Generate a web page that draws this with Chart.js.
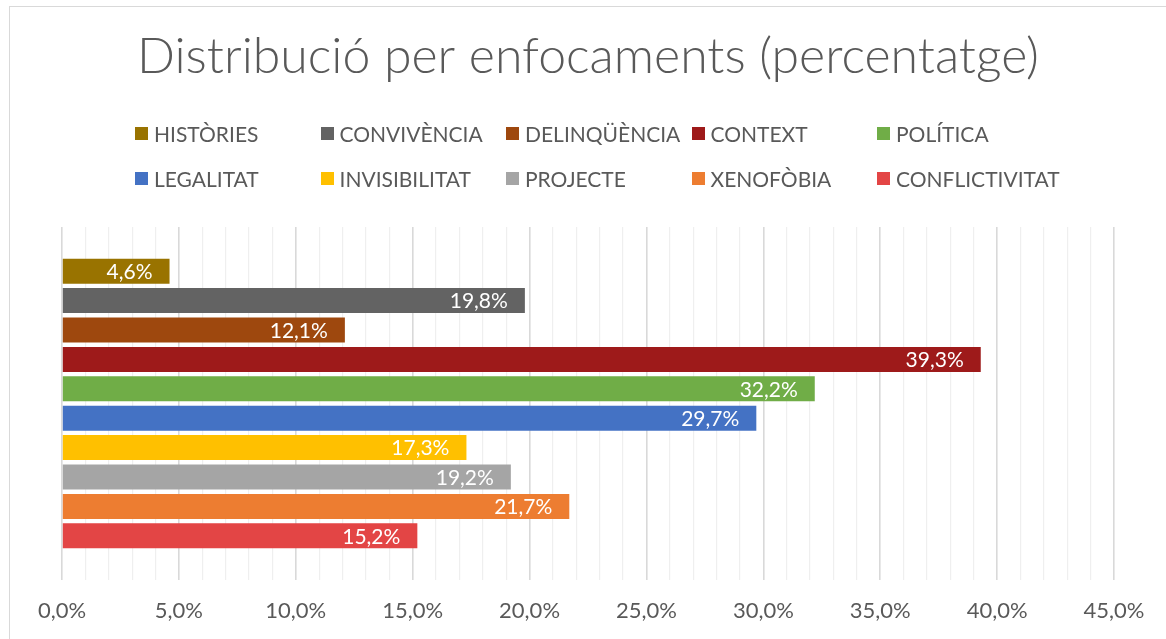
<!DOCTYPE html>
<html>
<head>
<meta charset="utf-8">
<script src="https://cdn.jsdelivr.net/npm/chart.js@4"></script>
<style>
  html, body { margin: 0; padding: 0; background: #fff; }
  body { width: 1166px; height: 639px; position: relative; overflow: hidden; font-family: 'Lato', 'Noto Sans', sans-serif; }
  .frame { position: absolute; left: 9px; top: 6px; width: 1300px; height: 800px; border: 1.5px solid #d9d9d9; box-sizing: border-box; }
  #chart { position: absolute; left: 0; top: 0; }
  .legend { position: absolute; left: 135px; top: 0; }
  .legend-item { position: absolute; display: flex; align-items: center; white-space: nowrap; color: #595959; font-size: 21px; }
  .legend-box { width: 13px; height: 13px; margin-right: 6px; }
</style>
</head>
<body>
<div class="frame"></div>
<canvas id="chart" width="1166" height="639"></canvas>
<div class="legend" id="legend"></div>
<script>
// ===== Data =====
const categories = ['HISTÒRIES', 'CONVIVÈNCIA', 'DELINQÜÈNCIA', 'CONTEXT', 'POLÍTICA',
  'LEGALITAT', 'INVISIBILITAT', 'PROJECTE', 'XENOFÒBIA', 'CONFLICTIVITAT'];
const values = [4.6, 19.8, 12.1, 39.3, 32.2, 29.7, 17.3, 19.2, 21.7, 15.2];
const colors = ['#997300', '#636363', '#9e480e', '#9e1a1a', '#70ad47',
  '#4472c4', '#ffc000', '#a5a5a5', '#ed7d31', '#e34545'];
const tickValues = [0, 5, 10, 15, 20, 25, 30, 35, 40, 45];

const fmt = v => v.toFixed(1).replace('.', ',') + '%';

// ===== Bar value labels (inside end) =====
const barLabels = {
  id: 'barLabels',
  afterDatasetsDraw(chart) {
    const ctx = chart.ctx;
    ctx.save();
    ctx.font = '21px Lato, "Noto Sans", sans-serif';
    ctx.fillStyle = '#ffffff';
    ctx.textAlign = 'right';
    ctx.textBaseline = 'middle';
    chart.data.datasets.forEach((ds, i) => {
      const meta = chart.getDatasetMeta(i);
      meta.data.forEach((bar, j) => {
        ctx.fillText(fmt(ds.data[j]), bar.x - 17, bar.y + 1);
      });
    });
    ctx.restore();
  }
};

// ===== Chart =====
const chart = new Chart(document.getElementById('chart'), {
  type: 'bar',
  data: {
    labels: [''],
    datasets: categories.map((name, i) => ({
      label: name,
      data: [values[i]],
      backgroundColor: colors[i],
      borderWidth: 0,
      categoryPercentage: 0.833,
      barPercentage: 0.85,
    }))
  },
  options: {
    indexAxis: 'y',
    responsive: false,
    animation: false,
    layout: { padding: { left: 62, right: 52, top: 0, bottom: 0 } },
    scales: {
      x: {
        min: 0,
        max: 45,
        afterFit: scale => { scale.height = 59; },
        ticks: {
          stepSize: 1,
          autoSkip: false,
          maxRotation: 0,
          padding: 18,
          color: '#595959',
          font: { family: 'Lato, "Noto Sans", sans-serif', size: 22 },
          callback: v => tickValues.includes(v) ? fmt(v) : '',
        },
        grid: {
          drawTicks: false,
          color: c => c.tick && c.tick.value % 5 === 0 ? '#d9d9d9' : '#efefef',
          lineWidth: c => c.tick && c.tick.value % 5 === 0 ? 1.6 : 1.2,
        },
        border: { display: false },
      },
      y: { display: false }
    },
    plugins: {
      legend: { display: false },
      tooltip: { enabled: false },
      title: {
        display: true,
        text: 'Distribució per enfocaments (percentatge)',
        color: '#595959',
        font: { family: 'Lato, "Noto Sans", sans-serif', size: 50, weight: 300 },
        padding: { top: 27, bottom: 140 },
      }
    }
  },
  plugins: [barLabels]
});

// ===== Legend (fixed columns) =====
const legend = document.getElementById('legend');
legend.innerHTML = categories.map((name, i) => {
  const col = i % 5, row = Math.floor(i / 5);
  return `<div class="legend-item" style="left:${col * 185.5}px;top:${133 + row * 45.5 - 14}px;height:28px">
    <span class="legend-box" style="background:${colors[i]}"></span>${name}</div>`;
}).join('');
</script>
</body>
</html>
